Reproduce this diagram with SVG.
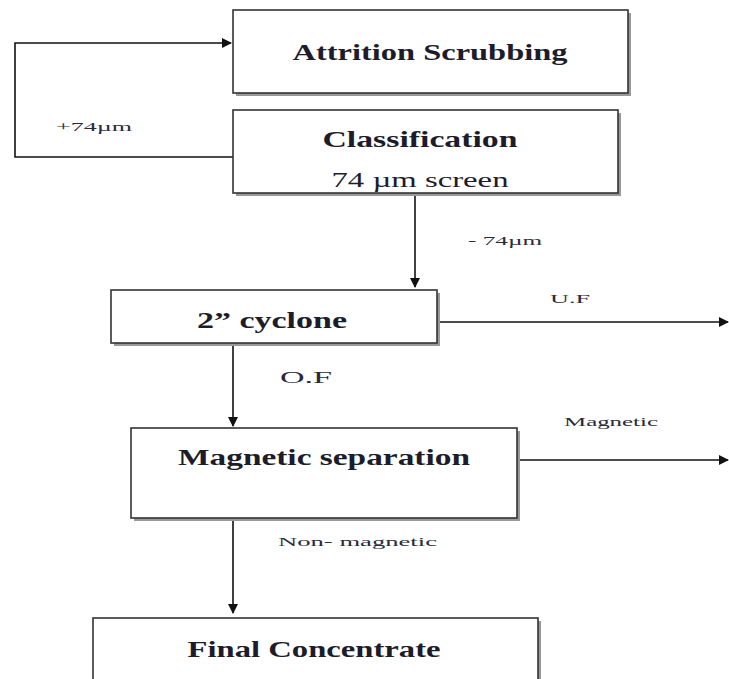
<svg xmlns="http://www.w3.org/2000/svg" width="729" height="679" viewBox="0 0 729 679">
<style>
.box{fill:#fff;stroke:#333;stroke-width:1.6}
.sh{fill:#999}
.t{font-family:"Liberation Serif",serif;font-weight:bold;font-size:23px;fill:#1c1c2a;text-anchor:middle}
.r{font-family:"Liberation Serif",serif;font-size:20px;fill:#1c1c2a;text-anchor:middle}
.l{font-family:"Liberation Serif",serif;font-size:12px;fill:#2a2a3a}
.c{fill:none;stroke:#111;stroke-width:1.6}
</style>
<defs>
<marker id="ah" markerWidth="10" markerHeight="10" refX="9" refY="5" orient="auto" markerUnits="userSpaceOnUse">
<path d="M0,0 L10,5 L0,10 Z" fill="#111"/>
</marker>
</defs>
<rect width="729" height="679" fill="#fff"/>
<g id="connectors">
<polyline class="c" points="233,157 15,157 15,43 231,43" marker-end="url(#ah)"/>
<line class="c" x1="415" y1="193" x2="415" y2="287" marker-end="url(#ah)"/>
<line class="c" x1="437" y1="322" x2="728" y2="322" marker-end="url(#ah)"/>
<line class="c" x1="233" y1="343" x2="233" y2="426" marker-end="url(#ah)"/>
<line class="c" x1="517" y1="460" x2="728" y2="460" marker-end="url(#ah)"/>
<line class="c" x1="233" y1="518" x2="233" y2="613" marker-end="url(#ah)"/>
<text class="l" x="56" y="131" textLength="76" lengthAdjust="spacingAndGlyphs">+74µm</text>
<text class="l" x="468" y="245" textLength="74" lengthAdjust="spacingAndGlyphs">- 74µm</text>
<text class="l" x="550" y="303" textLength="40" lengthAdjust="spacingAndGlyphs">U.F</text>
<text class="l" x="280" y="383" style="font-size:16px" textLength="52" lengthAdjust="spacingAndGlyphs">O.F</text>
<text class="l" x="564" y="426" textLength="94" lengthAdjust="spacingAndGlyphs">Magnetic</text>
<text class="l" x="278" y="546" textLength="159" lengthAdjust="spacingAndGlyphs">Non- magnetic</text>
</g>
<g id="attrition">
<rect class="sh" x="236" y="13" width="395" height="83"/>
<rect class="box" x="233" y="10" width="395" height="83"/>
<text class="t" x="430" y="60" textLength="275" lengthAdjust="spacingAndGlyphs">Attrition Scrubbing</text>
</g>
<g id="classification">
<rect class="sh" x="236" y="113" width="385" height="83"/>
<rect class="box" x="233" y="110" width="385" height="83"/>
<text class="t" x="420" y="147" textLength="195" lengthAdjust="spacingAndGlyphs">Classification</text>
<text class="r" x="420" y="187" textLength="177" lengthAdjust="spacingAndGlyphs">74 µm screen</text>
</g>
<g id="cyclone">
<rect class="sh" x="114" y="293" width="326" height="53"/>
<rect class="box" x="111" y="290" width="326" height="53"/>
<text class="t" x="272" y="328" textLength="150" lengthAdjust="spacingAndGlyphs">2” cyclone</text>
</g>
<g id="magsep">
<rect class="sh" x="134" y="431" width="386" height="90"/>
<rect class="box" x="131" y="428" width="386" height="90"/>
<text class="t" x="324" y="465" textLength="292" lengthAdjust="spacingAndGlyphs">Magnetic separation</text>
</g>
<g id="final">
<rect class="sh" x="96" y="621" width="445" height="62"/>
<rect class="box" x="93" y="618" width="445" height="62"/>
<text class="t" x="314" y="657" textLength="253" lengthAdjust="spacingAndGlyphs">Final Concentrate</text>
</g>
</svg>
